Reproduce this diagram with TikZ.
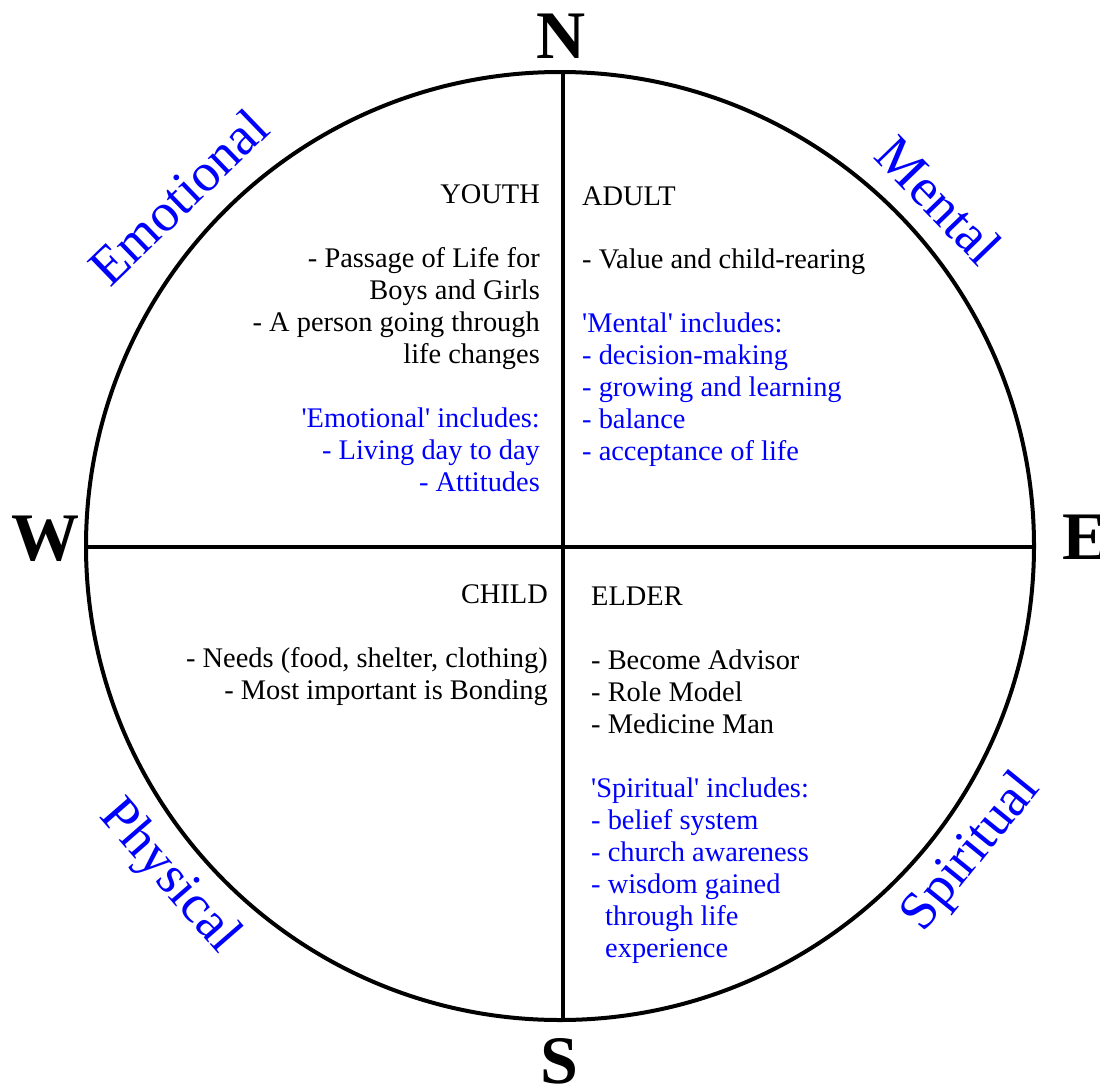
\documentclass[tikz,border=0pt]{standalone}
\usepackage{fontspec}
\setmainfont{Liberation Serif}
\definecolor{myblue}{RGB}{0,0,255}
\newcommand{\sq}{\textquotesingle}
\begin{document}
\begin{tikzpicture}[x=1pt,y=-1pt,
  t/.style={font=\fontsize{28.4}{32}\selectfont, inner sep=0pt},
  tr/.style={t, anchor=base east},
  tl/.style={t, anchor=base west},
  bl/.style={text=myblue},
  big/.style={font=\fontsize{68}{68}\selectfont\bfseries, inner sep=0pt, anchor=base},
  dirlab/.style={font=\fontsize{54}{54}\selectfont, text=myblue, inner sep=0pt, anchor=base},
  thick line/.style={line width=4pt}]
\useasboundingbox (0,0) rectangle (1100,1084);
% circle and cross
\node[circle, draw, line width=4pt, minimum size=948pt, inner sep=0pt] (wheel) at (560,546) {};
\coordinate (ntop) at (563,72);
\coordinate (sbot) at (563,1020);
\coordinate (wleft) at (86,547);
\coordinate (eright) at (1034,547);
\draw[thick line] (ntop) -- (sbot);
\draw[thick line] (wleft) -- (eright);
% compass letters
\node[big] (N) at (561,58) {N};
\node[big] (S) at (559,1083) {S};
\node[big] (W) at (45,560) {W};
\node[big] (E) at (1085,559) {E};
% direction labels
\node[dirlab, rotate=44] (emo) at (191,210) {Emotional};
\node[dirlab, rotate=-46] (men) at (926,213) {Mental};
\node[dirlab, rotate=-49] (phy) at (159,886) {Physical};
\node[dirlab, rotate=51] (spi) at (982,861) {Spiritual};
% YOUTH
\node[tr] (y1) at (540,203) {YOUTH};
\node[tr] (y2) at (540,267) {- Passage of Life for};
\node[tr] (y3) at (540,299) {Boys and Girls};
\node[tr] (y4) at (540,331) {- A person going through};
\node[tr] (y5) at (540,363) {life changes};
\node[tr, bl] (y6) at (540,427) {\sq Emotional\sq{} includes:};
\node[tr, bl] (y7) at (540,459) {- Living day to day};
\node[tr, bl] (y8) at (540,491) {- Attitudes};
% ADULT
\node[tl] (a1) at (582,205) {ADULT};
\node[tl] (a2) at (582,268) {- Value and child-rearing};
\node[tl, bl] (a3) at (582,332) {\sq Mental\sq{} includes:};
\node[tl, bl] (a4) at (582,364) {- decision-making};
\node[tl, bl] (a5) at (582,396) {- growing and learning};
\node[tl, bl] (a6) at (582,428) {- balance};
\node[tl, bl] (a7) at (582,460) {- acceptance of life};
% CHILD
\node[tr] (c1) at (548,603) {CHILD};
\node[tr] (c2) at (548,667) {- Needs (food, shelter, clothing)};
\node[tr] (c3) at (548,699) {- Most important is Bonding};
% ELDER
\node[tl] (e1) at (591,605) {ELDER};
\node[tl] (e2) at (591,669) {- Become Advisor};
\node[tl] (e3) at (591,701) {- Role Model};
\node[tl] (e4) at (591,733) {- Medicine Man};
\node[tl, bl] (e5) at (591,797) {\sq Spiritual\sq{} includes:};
\node[tl, bl] (e6) at (591,829) {- belief system};
\node[tl, bl] (e7) at (591,861) {- church awareness};
\node[tl, bl] (e8) at (591,893) {- wisdom gained};
\node[tl, bl] (e9) at (605,925) {through life};
\node[tl, bl] (e10) at (605,957) {experience};
\end{tikzpicture}
\end{document}
